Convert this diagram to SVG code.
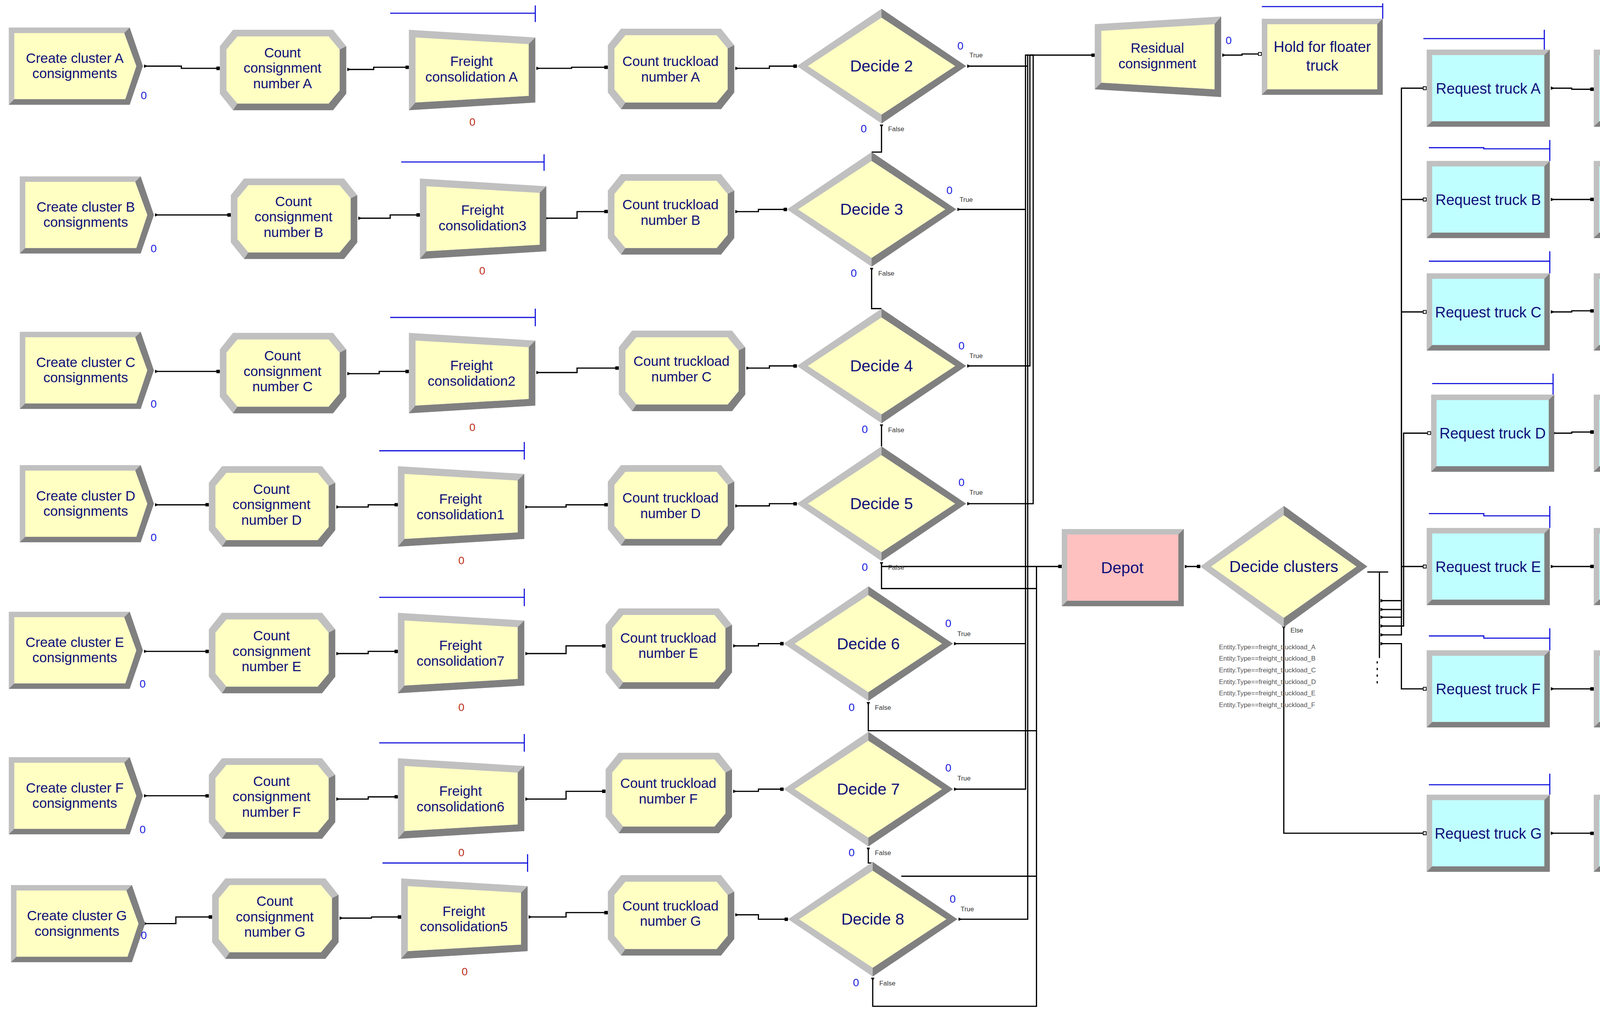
<svg xmlns="http://www.w3.org/2000/svg" xmlns:xlink="http://www.w3.org/1999/xlink" width="4412" height="2597" viewBox="0 0 4412 2597">
<style>
.t{font-family:"Liberation Sans",Arial,sans-serif;fill:#10107a;text-anchor:middle}
.n{font-size:12.5px}
.d{font-size:14.5px}
.r{font-size:13.5px}
.z{font-family:"Liberation Sans",Arial,sans-serif;font-size:10px;fill:#2020e0}
.zr{font-family:"Liberation Sans",Arial,sans-serif;font-size:10px;fill:#c03020}
.s{font-family:"Liberation Sans",Arial,sans-serif;font-size:6px;fill:#333}
.e{font-family:"Liberation Sans",Arial,sans-serif;font-size:6px;fill:#555}
.c{fill:none;stroke:#000;stroke-width:1.1}
.q{fill:none;stroke:#1010dd;stroke-width:1}
.lt{fill:#c0c0c0}.dk{fill:#808080}.y{fill:#ffffc4}.p{fill:#ffc0c0}.b{fill:#c0ffff}
</style>
<defs>
<marker id="in" viewBox="0 0 4 4" refX="4" refY="2" markerWidth="3.2" markerHeight="3.2" markerUnits="userSpaceOnUse"><rect width="4" height="4" fill="#000"/></marker>
<marker id="out" viewBox="0 0 4 4" refX="0" refY="2" markerWidth="3.2" markerHeight="3.2" markerUnits="userSpaceOnUse" orient="auto"><path d="M0,0L4,2L0,4z" fill="#000"/></marker>
<marker id="hin" viewBox="0 0 4 4" refX="4" refY="2" markerWidth="3.5" markerHeight="3.5" markerUnits="userSpaceOnUse"><rect x="0.4" y="0.4" width="3.2" height="3.2" fill="#fff" stroke="#000" stroke-width="0.8"/></marker>
<g id="create"><polygon class="lt" points="0,0 110,0 122,35 110,70 0,70"/><polygon class="dk" points="110,0 122,35 110,70 0,70 5,65 106,65 116,35 105,5"/><polygon class="y" points="5,5 105,5 116,35 106,65 5,65"/></g>
<g id="oct"><polygon class="lt" points="12,0 103,0 115,15 115,58 103,73 12,73 0,58 0,15"/><polygon class="dk" points="115,15 115,58 103,73 12,73 16,67 99,67 109,55 109,18"/><polygon class="y" points="16,6 99,6 109,18 109,55 99,67 16,67 6,55 6,18"/></g>
<g id="trap"><polygon class="lt" points="0,0 115,7 115,66 0,73"/><polygon class="dk" points="115,7 115,66 0,73 6,66 109,60 109,13"/><polygon class="y" points="6,7 109,13 109,60 6,66"/></g>
<g id="trapr"><polygon class="lt" points="0,7 115,0 115,73 0,66"/><polygon class="dk" points="115,0 115,73 0,66 6,60 109,66 109,7"/><polygon class="y" points="6,13 109,7 109,66 6,60"/></g>
<g id="dia"><polygon class="lt" points="77,0 154,52 77,104 0,52"/><polygon class="dk" points="77,0 154,52 77,104 77,96 144,52 77,8"/><polygon class="y" points="77,8 144,52 77,96 10,52"/></g>
<g id="rectb"><rect class="lt" width="112" height="70"/><polygon class="dk" points="112,0 112,70 0,70 5,65 107,65 107,5"/><rect class="b" x="5" y="5" width="102" height="60"/></g>
</defs>
<g transform="scale(2.8138,2.8228)">
<g id="connectors">
<!-- row A -->
<polyline class="c" marker-start="url(#out)" marker-end="url(#in)" points="131,60 165,60 165,62 200,62"/>
<polyline class="c" marker-start="url(#out)" marker-end="url(#in)" points="316,63 340,63 340,61 372,61"/>
<polyline class="c" marker-start="url(#out)" marker-end="url(#in)" points="488,62 520,62 520,61 553,61"/>
<polyline class="c" marker-start="url(#out)" marker-end="url(#in)" points="669,62 700,62 700,60 725,60"/>
<!-- row B -->
<polyline class="c" marker-start="url(#out)" marker-end="url(#in)" points="141,195 210,195"/>
<polyline class="c" marker-start="url(#out)" marker-end="url(#in)" points="326,198 355,198 355,195 382,195"/>
<polyline class="c" marker-start="url(#out)" marker-end="url(#in)" points="496,198 525,198 525,192 553,192"/>
<polyline class="c" marker-start="url(#out)" marker-end="url(#in)" points="669,192 690,192 690,190 716,190"/>
<!-- row C -->
<polyline class="c" marker-start="url(#out)" marker-end="url(#in)" points="141,337 200,337"/>
<polyline class="c" marker-start="url(#out)" marker-end="url(#in)" points="316,339 345,339 345,337 372,337"/>
<polyline class="c" marker-start="url(#out)" marker-end="url(#in)" points="488,338 525,338 525,334 563,334"/>
<polyline class="c" marker-start="url(#out)" marker-end="url(#in)" points="679,334 700,334 700,332 725,332"/>
<!-- row D -->
<polyline class="c" marker-start="url(#out)" marker-end="url(#in)" points="141,458 190,458"/>
<polyline class="c" marker-start="url(#out)" marker-end="url(#in)" points="306,460 335,460 335,458 362,458"/>
<polyline class="c" marker-start="url(#out)" marker-end="url(#in)" points="478,460 515,460 515,458 553,458"/>
<polyline class="c" marker-start="url(#out)" marker-end="url(#in)" points="669,459 700,459 700,457 725,457"/>
<!-- row E -->
<polyline class="c" marker-start="url(#out)" marker-end="url(#in)" points="131,591 190,591"/>
<polyline class="c" marker-start="url(#out)" marker-end="url(#in)" points="306,593 335,593 335,591 362,591"/>
<polyline class="c" marker-start="url(#out)" marker-end="url(#in)" points="478,593 515,593 515,586 551,586"/>
<polyline class="c" marker-start="url(#out)" marker-end="url(#in)" points="667,586 690,586 690,584 713,584"/>
<!-- row F -->
<polyline class="c" marker-start="url(#out)" marker-end="url(#in)" points="131,722 190,722"/>
<polyline class="c" marker-start="url(#out)" marker-end="url(#in)" points="306,725 335,725 335,723 362,723"/>
<polyline class="c" marker-start="url(#out)" marker-end="url(#in)" points="478,725 515,725 515,718 551,718"/>
<polyline class="c" marker-start="url(#out)" marker-end="url(#in)" points="667,718 690,718 690,716 713,716"/>
<!-- row G -->
<polyline class="c" marker-start="url(#out)" marker-end="url(#in)" points="131,838 160,838 160,832 193,832"/>
<polyline class="c" marker-start="url(#out)" marker-end="url(#in)" points="309,833 338,833 338,832 365,832"/>
<polyline class="c" marker-start="url(#out)" marker-end="url(#in)" points="481,832 515,832 515,828 553,828"/>
<polyline class="c" marker-start="url(#out)" marker-end="url(#in)" points="669,830 690,830 690,834 717,834"/>
<!-- True lines -->
<polyline class="c" marker-start="url(#out)" points="880,60 935,60"/>
<polyline class="c" marker-end="url(#in)" points="935,60 935,50 996,50"/>
<polyline class="c" marker-start="url(#out)" points="871,190 933,190 933,50 935,50"/>
<polyline class="c" marker-start="url(#out)" points="880,332 937,332 937,50"/>
<polyline class="c" marker-start="url(#out)" points="880,457 940,457 940,50 937,50"/>
<polyline class="c" marker-start="url(#out)" points="868,584 933,584 933,190"/>
<polyline class="c" marker-start="url(#out)" points="868,716 933,716 933,584"/>
<polyline class="c" marker-start="url(#out)" points="872,834 935,834 935,60"/>
<!-- False lines -->
<polyline class="c" marker-start="url(#out)" points="802,113 802,138 793,138"/>
<polyline class="c" marker-start="url(#out)" points="793,243 793,280 802,280"/>
<polyline class="c" marker-start="url(#out)" points="802,385 802,405"/>
<polyline class="c" marker-start="url(#out)" marker-end="url(#in)" points="802,510 802,514 966,514"/>
<polyline class="c" points="802,514 802,534 943,534"/>
<polyline class="c" marker-start="url(#out)" points="790,637 790,663 943,663"/>
<polyline class="c" marker-start="url(#out)" points="790,769 790,783 794,783"/>
<polyline class="c" points="820,795 943,795"/>
<polyline class="c" marker-start="url(#out)" points="794,887 794,913 943,913 943,514"/>
<!-- residual / hold -->
<polyline class="c" marker-start="url(#out)" marker-end="url(#hin)" points="1112,50 1130,50 1130,49 1148,49"/>
<!-- depot -->
<polyline class="c" marker-start="url(#out)" marker-end="url(#in)" points="1078,514 1092,514"/>
<!-- decide clusters -->
<polyline class="c" points="1244,519 1263,519"/>
<polyline class="c" points="1255,519 1255,597"/>
<polyline class="c" stroke-dasharray="2,4" points="1253,600 1253,622"/>
<polyline class="c" marker-start="url(#out)" marker-end="url(#hin)" points="1256,545 1275,545 1275,80 1298,80"/>
<polyline class="c" marker-start="url(#out)" marker-end="url(#hin)" points="1256,553 1275,553 1275,181 1298,181"/>
<polyline class="c" marker-start="url(#out)" marker-end="url(#hin)" points="1256,560 1275,560 1275,283 1298,283"/>
<polyline class="c" marker-start="url(#out)" marker-end="url(#hin)" points="1256,568 1277,568 1277,393 1302,393"/>
<polyline class="c" marker-start="url(#out)" marker-end="url(#hin)" points="1256,576 1275,576 1275,514 1298,514"/>
<polyline class="c" marker-start="url(#out)" marker-end="url(#hin)" points="1256,584 1275,584 1275,625 1298,625"/>
<polyline class="c" marker-start="url(#out)" marker-end="url(#hin)" points="1168,568 1168,756 1298,756"/>
<!-- request -> transport -->
<polyline class="c" marker-start="url(#out)" marker-end="url(#in)" points="1411,80 1430,80 1430,81 1450,81"/>
<polyline class="c" marker-start="url(#out)" marker-end="url(#in)" points="1411,181 1450,181"/>
<polyline class="c" marker-start="url(#out)" marker-end="url(#in)" points="1411,283 1430,283 1430,282 1450,282"/>
<polyline class="c" marker-start="url(#out)" marker-end="url(#in)" points="1413,393 1430,393 1430,392 1450,392"/>
<polyline class="c" marker-start="url(#out)" marker-end="url(#in)" points="1411,514 1450,514"/>
<polyline class="c" marker-start="url(#out)" marker-end="url(#in)" points="1411,625 1450,625"/>
<polyline class="c" marker-start="url(#out)" marker-end="url(#in)" points="1411,756 1450,756"/>
</g>
<!-- Row A -->
<g id="createA"><use xlink:href="#create" x="8" y="25"/><text class="t n" x="68" y="57">Create cluster A</text><text class="t n" x="68" y="71">consignments</text><text class="z" x="128" y="90">0</text></g>
<g id="countA"><use xlink:href="#oct" x="200" y="27"/><text class="t n" x="257" y="52">Count</text><text class="t n" x="257" y="66">consignment</text><text class="t n" x="257" y="80">number A</text></g>
<g id="freightA"><use xlink:href="#trap" x="372" y="27"/><path class="q" d="M355,12H487M487,5V20"/><text class="t n" x="429" y="60">Freight</text><text class="t n" x="429" y="74">consolidation A</text><text class="zr" x="427" y="114">0</text></g>
<g id="truckA"><use xlink:href="#oct" x="553" y="26"/><text class="t n" x="610" y="60">Count truckload</text><text class="t n" x="610" y="74">number A</text></g>
<g id="decide2"><use xlink:href="#dia" x="725" y="8"/><text class="t d" x="802" y="65">Decide 2</text><text class="z" x="871" y="45">0</text><text class="s" x="882" y="52">True</text><text class="z" x="783" y="120">0</text><text class="s" x="808" y="119">False</text></g>
<!-- Row B -->
<g id="createB"><use xlink:href="#create" x="18" y="160"/><text class="t n" x="78" y="192">Create cluster B</text><text class="t n" x="78" y="206">consignments</text><text class="z" x="137" y="229">0</text></g>
<g id="countB"><use xlink:href="#oct" x="210" y="162"/><text class="t n" x="267" y="187">Count</text><text class="t n" x="267" y="201">consignment</text><text class="t n" x="267" y="215">number B</text></g>
<g id="freightB"><use xlink:href="#trap" x="382" y="162"/><path class="q" d="M365,147H495M495,140V155"/><text class="t n" x="439" y="195">Freight</text><text class="t n" x="439" y="209">consolidation3</text><text class="zr" x="436" y="249">0</text></g>
<g id="truckB"><use xlink:href="#oct" x="553" y="158"/><text class="t n" x="610" y="190">Count truckload</text><text class="t n" x="610" y="204">number B</text></g>
<g id="decide3"><use xlink:href="#dia" x="716" y="138"/><text class="t d" x="793" y="195">Decide 3</text><text class="z" x="861" y="176">0</text><text class="s" x="873" y="183">True</text><text class="z" x="774" y="251">0</text><text class="s" x="799" y="250">False</text></g>
<!-- Row C -->
<g id="createC"><use xlink:href="#create" x="18" y="301"/><text class="t n" x="78" y="333">Create cluster C</text><text class="t n" x="78" y="347">consignments</text><text class="z" x="137" y="370">0</text></g>
<g id="countC"><use xlink:href="#oct" x="200" y="302"/><text class="t n" x="257" y="327">Count</text><text class="t n" x="257" y="341">consignment</text><text class="t n" x="257" y="355">number C</text></g>
<g id="freightC"><use xlink:href="#trap" x="372" y="302"/><path class="q" d="M355,288H487M487,280V296"/><text class="t n" x="429" y="336">Freight</text><text class="t n" x="429" y="350">consolidation2</text><text class="zr" x="427" y="391">0</text></g>
<g id="truckC"><use xlink:href="#oct" x="563" y="300"/><text class="t n" x="620" y="332">Count truckload</text><text class="t n" x="620" y="346">number C</text></g>
<g id="decide4"><use xlink:href="#dia" x="725" y="280"/><text class="t d" x="802" y="337">Decide 4</text><text class="z" x="872" y="317">0</text><text class="s" x="882" y="325">True</text><text class="z" x="784" y="393">0</text><text class="s" x="808" y="392">False</text></g>
<!-- Row D -->
<g id="createD"><use xlink:href="#create" x="18" y="422"/><text class="t n" x="78" y="454">Create cluster D</text><text class="t n" x="78" y="468">consignments</text><text class="z" x="137" y="491">0</text></g>
<g id="countD"><use xlink:href="#oct" x="190" y="423"/><text class="t n" x="247" y="448">Count</text><text class="t n" x="247" y="462">consignment</text><text class="t n" x="247" y="476">number D</text></g>
<g id="freightD"><use xlink:href="#trap" x="362" y="423"/><path class="q" d="M345,409H477M477,401V417"/><text class="t n" x="419" y="457">Freight</text><text class="t n" x="419" y="471">consolidation1</text><text class="zr" x="417" y="512">0</text></g>
<g id="truckD"><use xlink:href="#oct" x="553" y="422"/><text class="t n" x="610" y="456">Count truckload</text><text class="t n" x="610" y="470">number D</text></g>
<g id="decide5"><use xlink:href="#dia" x="725" y="405"/><text class="t d" x="802" y="462">Decide 5</text><text class="z" x="872" y="441">0</text><text class="s" x="882" y="449">True</text><text class="z" x="784" y="518">0</text><text class="s" x="808" y="517">False</text></g>
<!-- Row E -->
<g id="createE"><use xlink:href="#create" x="8" y="555"/><text class="t n" x="68" y="587">Create cluster E</text><text class="t n" x="68" y="601">consignments</text><text class="z" x="127" y="624">0</text></g>
<g id="countE"><use xlink:href="#oct" x="190" y="556"/><text class="t n" x="247" y="581">Count</text><text class="t n" x="247" y="595">consignment</text><text class="t n" x="247" y="609">number E</text></g>
<g id="freightE"><use xlink:href="#trap" x="362" y="556"/><path class="q" d="M345,542H477M477,534V550"/><text class="t n" x="419" y="590">Freight</text><text class="t n" x="419" y="604">consolidation7</text><text class="zr" x="417" y="645">0</text></g>
<g id="truckE"><use xlink:href="#oct" x="551" y="552"/><text class="t n" x="608" y="583">Count truckload</text><text class="t n" x="608" y="597">number E</text></g>
<g id="decide6"><use xlink:href="#dia" x="713" y="532"/><text class="t d" x="790" y="589">Decide 6</text><text class="z" x="860" y="569">0</text><text class="s" x="871" y="577">True</text><text class="z" x="772" y="645">0</text><text class="s" x="796" y="644">False</text></g>
<!-- Row F -->
<g id="createF"><use xlink:href="#create" x="8" y="687"/><text class="t n" x="68" y="719">Create cluster F</text><text class="t n" x="68" y="733">consignments</text><text class="z" x="127" y="756">0</text></g>
<g id="countF"><use xlink:href="#oct" x="190" y="688"/><text class="t n" x="247" y="713">Count</text><text class="t n" x="247" y="727">consignment</text><text class="t n" x="247" y="741">number F</text></g>
<g id="freightF"><use xlink:href="#trap" x="362" y="688"/><path class="q" d="M345,674H477M477,666V682"/><text class="t n" x="419" y="722">Freight</text><text class="t n" x="419" y="736">consolidation6</text><text class="zr" x="417" y="777">0</text></g>
<g id="truckF"><use xlink:href="#oct" x="551" y="683"/><text class="t n" x="608" y="715">Count truckload</text><text class="t n" x="608" y="729">number F</text></g>
<g id="decide7"><use xlink:href="#dia" x="713" y="664"/><text class="t d" x="790" y="721">Decide 7</text><text class="z" x="860" y="700">0</text><text class="s" x="871" y="708">True</text><text class="z" x="772" y="777">0</text><text class="s" x="796" y="776">False</text></g>
<!-- Row G -->
<g id="createG"><use xlink:href="#create" x="10" y="803"/><text class="t n" x="70" y="835">Create cluster G</text><text class="t n" x="70" y="849">consignments</text><text class="z" x="128" y="852">0</text></g>
<g id="countG"><use xlink:href="#oct" x="193" y="797"/><text class="t n" x="250" y="822">Count</text><text class="t n" x="250" y="836">consignment</text><text class="t n" x="250" y="850">number G</text></g>
<g id="freightG"><use xlink:href="#trap" x="365" y="797"/><path class="q" d="M348,783H480M480,775V791"/><text class="t n" x="422" y="831">Freight</text><text class="t n" x="422" y="845">consolidation5</text><text class="zr" x="420" y="885">0</text></g>
<g id="truckG"><use xlink:href="#oct" x="553" y="794"/><text class="t n" x="610" y="826">Count truckload</text><text class="t n" x="610" y="840">number G</text></g>
<g id="decide8"><use xlink:href="#dia" x="717" y="782"/><text class="t d" x="794" y="839">Decide 8</text><text class="z" x="864" y="819">0</text><text class="s" x="874" y="827">True</text><text class="z" x="776" y="895">0</text><text class="s" x="800" y="894">False</text></g>
<!-- right part -->
<g id="residual"><use xlink:href="#trapr" x="996" y="15"/><text class="t n" x="1053" y="48">Residual</text><text class="t n" x="1053" y="62">consignment</text><text class="z" x="1115" y="40">0</text></g>
<g id="hold"><rect class="lt" x="1148" y="17" width="110" height="69"/><polygon class="dk" points="1258,17 1258,86 1148,86 1153,81 1253,81 1253,22"/><rect class="y" x="1153" y="22" width="100" height="59"/><path class="q" d="M1148,6H1258M1258,3V17"/><text class="t r" x="1203" y="47">Hold for floater</text><text class="t r" x="1203" y="64">truck</text></g>
<g id="depot"><rect class="lt" x="966" y="480" width="111" height="70"/><polygon class="dk" points="1077,480 1077,550 966,550 971,545 1072,545 1072,485"/><rect class="p" x="971" y="485" width="101" height="60"/><text class="t d" x="1021" y="520">Depot</text></g>
<g id="decideClusters"><use xlink:href="#dia" transform="translate(1092,459) scale(0.987,1.058)"/><text class="t d" x="1168" y="519">Decide clusters</text><text class="s" x="1174" y="574">Else</text>
<text class="e" x="1109" y="589">Entity.Type==freight_truckload_A</text><text class="e" x="1109" y="599.5">Entity.Type==freight_truckload_B</text><text class="e" x="1109" y="610">Entity.Type==freight_truckload_C</text><text class="e" x="1109" y="620.5">Entity.Type==freight_truckload_D</text><text class="e" x="1109" y="631">Entity.Type==freight_truckload_E</text><text class="e" x="1109" y="641.5">Entity.Type==freight_truckload_F</text></g>
<g id="requestA"><use xlink:href="#rectb" x="1298" y="45"/><path class="q" d="M1295,35H1405M1405,27V45"/><text class="t r" x="1354" y="85">Request truck A</text></g>
<g id="requestB"><use xlink:href="#rectb" x="1298" y="146"/><path class="q" d="M1300,134H1350V135H1410M1410,127V146"/><text class="t r" x="1354" y="186">Request truck B</text></g>
<g id="requestC"><use xlink:href="#rectb" x="1298" y="248"/><path class="q" d="M1300,237H1410M1410,228V248"/><text class="t r" x="1354" y="288">Request truck C</text></g>
<g id="requestD"><use xlink:href="#rectb" x="1302" y="358"/><path class="q" d="M1303,348H1413M1413,339V358"/><text class="t r" x="1358" y="398">Request truck D</text></g>
<g id="requestE"><use xlink:href="#rectb" x="1298" y="479"/><path class="q" d="M1300,466H1350V468H1410M1410,459V479"/><text class="t r" x="1354" y="519">Request truck E</text></g>
<g id="requestF"><use xlink:href="#rectb" x="1298" y="590"/><path class="q" d="M1300,577H1350V579H1410M1410,570V590"/><text class="t r" x="1354" y="630">Request truck F</text></g>
<g id="requestG"><use xlink:href="#rectb" x="1298" y="721"/><path class="q" d="M1300,712H1410M1410,702V721"/><text class="t r" x="1354" y="761">Request truck G</text></g>
<g id="transportA"><use xlink:href="#rectb" x="1450" y="45"/><text class="t r" x="1506" y="77">Tranport to the</text><text class="t r" x="1506" y="94">mean centre A</text></g>
<g id="transportB"><use xlink:href="#rectb" x="1450" y="146"/><text class="t r" x="1506" y="178">Tranport to the</text><text class="t r" x="1506" y="195">mean centre B</text></g>
<g id="transportC"><use xlink:href="#rectb" x="1450" y="248"/><text class="t r" x="1506" y="279">Tranport to the</text><text class="t r" x="1506" y="296">mean centre C</text></g>
<g id="transportD"><use xlink:href="#rectb" x="1450" y="358"/><text class="t r" x="1506" y="389">Tranport to the</text><text class="t r" x="1506" y="406">mean centre D</text></g>
<g id="transportE"><use xlink:href="#rectb" x="1450" y="479"/><text class="t r" x="1506" y="511">Tranport to the</text><text class="t r" x="1506" y="528">mean centre E</text></g>
<g id="transportF"><use xlink:href="#rectb" x="1450" y="590"/><text class="t r" x="1506" y="621">Tranport to the</text><text class="t r" x="1506" y="638">mean centre F</text></g>
<g id="transportG"><use xlink:href="#rectb" x="1450" y="721"/><text class="t r" x="1506" y="753">Tranport to the</text><text class="t r" x="1506" y="770">mean centre G</text></g>
</g>
</svg>
